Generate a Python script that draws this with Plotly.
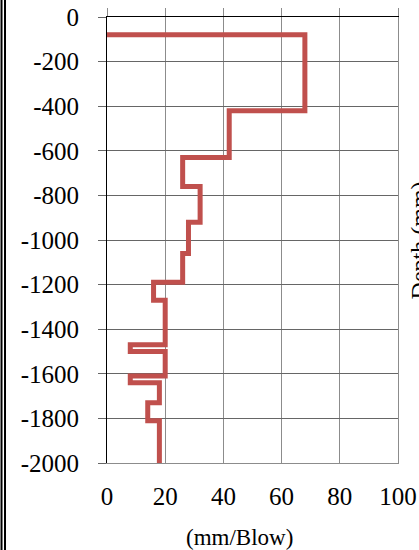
import plotly.graph_objects as go

# Layer data (depth in mm, penetration rate in mm/blow)
layer_top = [-80, -420, -630, -760, -920, -1060, -1190, -1270, -1470, -1500, -1610, -1640, -1730, -1810]
layer_bottom = [-420, -630, -760, -920, -1060, -1190, -1270, -1470, -1500, -1610, -1640, -1730, -1810, -2000]
penetration = [68, 42, 26, 32, 28, 26, 16, 20, 8, 20, 8, 18, 14, 18]

x_tick_vals = [0, 20, 40, 60, 80, 100]
x_tick_text = ["0", "20", "40", "60", "80", "100"]
y_tick_vals = [0, -200, -400, -600, -800, -1000, -1200, -1400, -1600, -1800, -2000]
y_tick_text = ["0", "-200", "-400", "-600", "-800", "-1000", "-1200", "-1400", "-1600", "-1800", "-2000"]

x_title = "(mm/Blow)"
y_title = "Depth (mm)"

# Build step path from layer data
xs = [0]
ys = [layer_top[0]]
for v, t, b in zip(penetration, layer_top, layer_bottom):
    xs += [v, v]
    ys += [t, b]

FONT = "Liberation Serif"

fig = go.Figure()
fig.add_trace(go.Scatter(x=xs, y=ys, mode="lines",
                         line=dict(color="#C0504D", width=5),
                         showlegend=False, hoverinfo="skip"))
fig.add_trace(go.Scatter(x=[None], y=[None], xaxis="x2", yaxis="y2",
                         showlegend=False, hoverinfo="skip"))

fig.update_layout(
    width=419, height=550,
    margin=dict(l=107, r=21, t=17, b=87, autoexpand=False),
    paper_bgcolor="white", plot_bgcolor="white",
    font=dict(family=FONT, color="black", size=25),
    xaxis=dict(range=[0, 100], tickvals=x_tick_vals, ticktext=x_tick_text,
               showgrid=True, gridcolor="#8c8c8c", gridwidth=1, automargin=False,
               zeroline=False, showline=True, linecolor="#8c8c8c", linewidth=1,
               ticks="", ticklabelstandoff=11,
               tickfont=dict(family=FONT, size=25, color="black")),
    xaxis2=dict(range=[0, 100], overlaying="x", side="top", tickvals=x_tick_vals,
                showticklabels=False, ticks="outside", ticklen=8, tickcolor="#8c8c8c",
                tickwidth=1, showgrid=False, zeroline=False, automargin=False,
                showline=True, linecolor="black", linewidth=1),
    yaxis=dict(range=[-2000, 0], tickvals=y_tick_vals, ticktext=y_tick_text,
               showgrid=True, gridcolor="#666666", gridwidth=1, automargin=False,
               zeroline=False, showline=True, linecolor="black", linewidth=1,
               ticks="outside", ticklen=8, tickcolor="#666666", tickwidth=1,
               ticklabelstandoff=14,
               tickfont=dict(family=FONT, size=25, color="black")),
    yaxis2=dict(range=[-2000, 0], overlaying="y", side="right", automargin=False,
                showticklabels=False, ticks="", showgrid=False, zeroline=False,
                showline=True, linecolor="#8c8c8c", linewidth=1),
    annotations=[
        dict(text=x_title, xref="paper", yref="paper", x=0.454, y=-0.167,
             xanchor="center", yanchor="middle", showarrow=False,
             font=dict(family=FONT, size=23, color="black")),
        dict(text=y_title, xref="paper", yref="paper", x=1.022, y=0.5,
             xanchor="left", yanchor="middle", textangle=-90, showarrow=False,
             font=dict(family=FONT, size=24, color="black")),
    ],
    shapes=[
        dict(type="line", xref="paper", yref="paper", x0=-0.3625, x1=-0.3625,
             y0=-0.3, y1=1.2, line=dict(color="black", width=2)),
        dict(type="line", xref="paper", yref="paper", x0=-0.3505, x1=-0.3505,
             y0=-0.3, y1=1.2, line=dict(color="black", width=2)),
    ],
)

fig.write_html("out.html", config={"displayModeBar": False},
               post_script="document.body.style.margin='0';document.body.style.overflow='hidden';")
